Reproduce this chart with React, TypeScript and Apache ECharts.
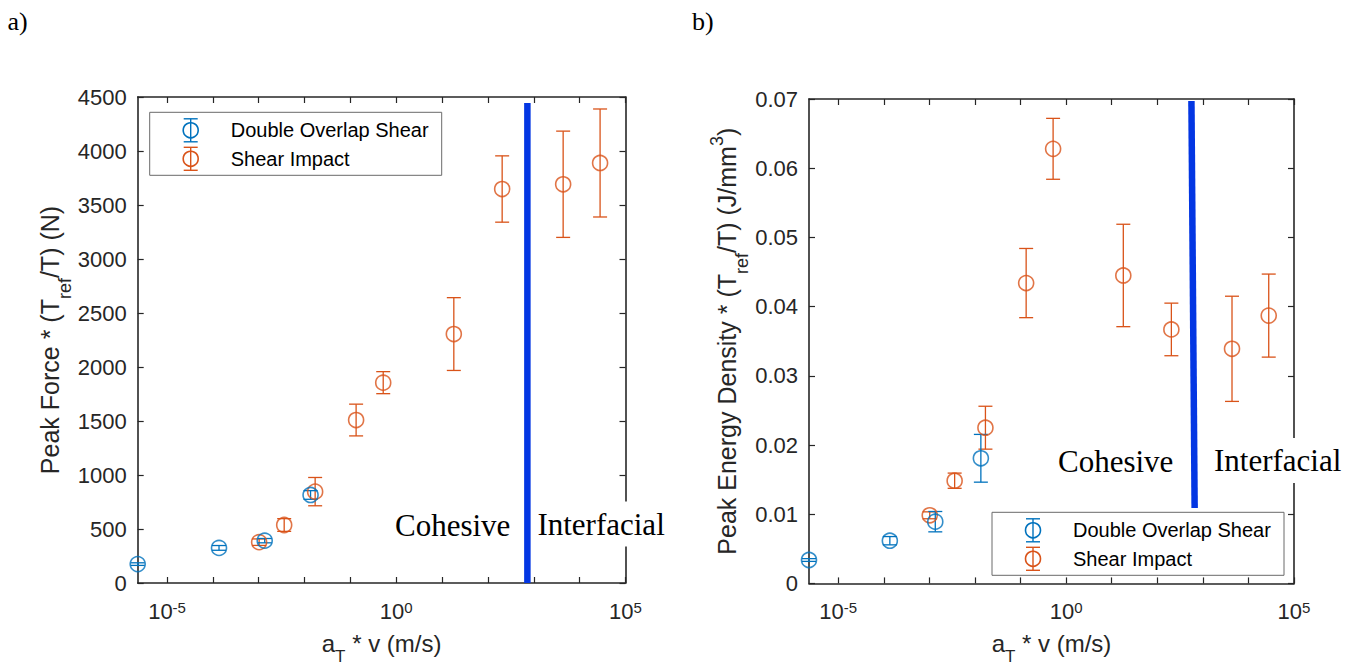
import React, { useEffect, useRef } from 'react';
import * as echarts from 'echarts';

// ---------- data ----------
const dosVelocity = [2.29e-6, 1.36e-4, 1.35e-3, 1.35e-2];
const impactVelocity = [1.02e-3, 3.59e-3, 1.7e-2, 0.133, 0.519, 18.0, 204, 4365, 27900];

const dosForce = [175, 325, 392, 815];
const dosForceErr = [12, 22, 20, 40];
const impactForce = [378, 537, 846, 1509, 1855, 2305, 3648, 3692, 3889];
const impactForceErr = [30, 59, 131, 147, 102, 337, 307, 492, 500];

const dosEnergy = [0.00338, 0.00617, 0.00892, 0.01808];
const dosEnergyErr = [0.0002, 0.0006, 0.00147, 0.00345];
const impactEnergy = [0.00984, 0.01484, 0.0225, 0.0434, 0.0628, 0.0445, 0.0367, 0.0339, 0.0387];
const impactEnergyErr = [0.0005, 0.0011, 0.0031, 0.005, 0.0044, 0.0074, 0.0038, 0.0076, 0.006];

const forceTransition = [[724, 0], [724, 4444]];
const energyTransition = [[562, 0.0697], [661, 0.0109]];

const xMin = 2.29e-6;
const xMax = 1e5;
const tickExponents = [-5, -4, -3, -2, -1, 0, 1, 2, 3, 4, 5];
const labeledExponents = [-5, 0, 5];
const forceTicks = { min: 0, max: 4500, interval: 500 };
const energyTicks = { min: 0, max: 0.07, interval: 0.01 };
const seriesNames = ['Double Overlap Shear', 'Shear Impact'];

// ---------- style ----------
const BLUE = '#0072BD';
const ORANGE = '#D95319';
const LINE_BLUE = '#0336e3';
const AX = '#262626';
const SANS = '"Liberation Sans", Arial, Helvetica, sans-serif';
const SERIF = '"Liberation Serif", "Times New Roman", serif';

// x values are plotted on a base-10 logarithmic scale (exponent space)
const lg = (v: number) => Math.log10(v);
const zip2 = (xs: number[], ys: number[]) => xs.map((x, i) => [lg(x), ys[i]]);
const zip3 = (xs: number[], ys: number[], es: number[]) => xs.map((x, i) => [lg(x), ys[i], es[i]]);
const logPts = (pts: number[][]) => pts.map((p) => [lg(p[0]), p[1]]);

const errRender = (color: string) => (params: any, api: any) => {
  const x = api.value(0);
  const y = api.value(1);
  const e = api.value(2);
  const top = api.coord([x, y + e]);
  const bot = api.coord([x, y - e]);
  const hw = 7;
  const st = { stroke: color, lineWidth: 1.3, fill: 'none' };
  return {
    type: 'group',
    children: [
      { type: 'line', shape: { x1: top[0], y1: top[1], x2: bot[0], y2: bot[1] }, style: st },
      { type: 'line', shape: { x1: top[0] - hw, y1: top[1], x2: top[0] + hw, y2: top[1] }, style: st },
      { type: 'line', shape: { x1: bot[0] - hw, y1: bot[1], x2: bot[0] + hw, y2: bot[1] }, style: st },
    ],
  };
};

const logLabelFormatter = (v: number) => {
  const r = Math.round(v);
  if (Math.abs(v - r) < 1e-6 && labeledExponents.includes(r)) return `{b|10}{s|${r}}`;
  return '';
};

const xAxisFor = (gridIndex: number, position: string, withLabels: boolean) => ({
  type: 'value',
  gridIndex,
  position,
  min: lg(xMin),
  max: lg(xMax),
  splitNumber: 10,
  axisLine: { show: true, onZero: false, lineStyle: { color: AX, width: 1.6 } },
  axisTick: { show: true, inside: true, length: 6, customValues: tickExponents, lineStyle: { color: AX, width: 1.2 } },
  minorTick: { show: false },
  splitLine: { show: false },
  axisLabel: withLabels
    ? {
        show: true,
        margin: 17,
        customValues: labeledExponents,
        showMinLabel: true,
        showMaxLabel: true,
        formatter: logLabelFormatter,
        rich: {
          b: { fontSize: 22, lineHeight: 22, verticalAlign: 'bottom', fontFamily: SANS, color: AX },
          s: { fontSize: 15, lineHeight: 15, verticalAlign: 'top', padding: [0, 0, 11, 0], fontFamily: SANS, color: AX },
        },
      }
    : { show: false },
  name: withLabels ? '{b|a}{sub|T}{b|\u00a0* v (m/s)}' : '',
  nameLocation: 'middle',
  nameGap: 48,
  nameTextStyle: {
    fontFamily: SANS,
    fontSize: 24,
    color: AX,
    rich: {
      b: { fontSize: 24, lineHeight: 26, verticalAlign: 'top', fontFamily: SANS, color: AX },
      sub: { fontSize: 17, lineHeight: 18, verticalAlign: 'top', padding: [17, 0, 0, 0], fontFamily: SANS, color: AX },
    },
  },
});

const yAxisFor = (gridIndex: number, position: string, ticks: any, withLabels: boolean, name: string, nameGap: number, rich: any, fmt: (v: number) => string) => ({
  type: 'value',
  gridIndex,
  position,
  min: ticks.min,
  max: ticks.max,
  interval: ticks.interval,
  axisLine: { show: true, onZero: false, lineStyle: { color: AX, width: 1.6 } },
  axisTick: { show: true, inside: true, length: 6, lineStyle: { color: AX, width: 1.2 } },
  splitLine: { show: false },
  axisLabel: withLabels
    ? { show: true, margin: 11, fontSize: 22, fontFamily: SANS, color: AX, formatter: fmt }
    : { show: false },
  name: withLabels ? name : '',
  nameLocation: 'middle',
  nameGap,
  nameTextStyle: { fontFamily: SANS, fontSize: 25, color: AX, rich },
});

const legendGroup = (x0: number, y0: number) => {
  const w = 292;
  const h = 63;
  const colors = [BLUE, ORANGE];
  const children: any[] = [
    { type: 'rect', shape: { x: 0, y: 0, width: w, height: h }, style: { fill: '#fff', stroke: '#6a6a6a', lineWidth: 1 } },
  ];
  seriesNames.forEach((name, i) => {
    const cy = 18 + i * 28.5;
    const cx = 41;
    const st = { stroke: colors[i], lineWidth: 1.4, fill: 'none' };
    children.push({ type: 'line', shape: { x1: cx, y1: cy - 11.5, x2: cx, y2: cy + 11.5 }, style: st });
    children.push({ type: 'line', shape: { x1: cx - 7, y1: cy - 11.5, x2: cx + 7, y2: cy - 11.5 }, style: st });
    children.push({ type: 'line', shape: { x1: cx - 7, y1: cy + 11.5, x2: cx + 7, y2: cy + 11.5 }, style: st });
    children.push({ type: 'circle', shape: { cx, cy, r: 7.5 }, style: { fill: 'none', stroke: colors[i], lineWidth: 1.6 } });
    children.push({
      type: 'text',
      x: 81,
      y: cy,
      style: { text: name, fontFamily: SANS, fontSize: 20, fill: '#000', verticalAlign: 'middle', textVerticalAlign: 'middle', align: 'left', textAlign: 'left' },
    });
  });
  return { type: 'group', x: x0, y: y0, z: 50, children };
};

const annot = (text: string, x: number, y: number, bg: boolean) => ({
  type: 'text',
  x,
  y,
  z: 60,
  style: {
    text,
    fontFamily: SERIF,
    fontSize: 31,
    fill: '#000',
    verticalAlign: 'middle',
    textVerticalAlign: 'middle',
    align: 'left',
    textAlign: 'left',
    backgroundColor: bg ? '#fff' : undefined,
    padding: bg ? [7, 2, 7, 2] : 0,
  },
});

const scatterS = (xi: number, yi: number, data: number[][], color: string, name: string) => ({
  type: 'scatter',
  name,
  xAxisIndex: xi,
  yAxisIndex: yi,
  data,
  symbol: 'circle',
  symbolSize: 15,
  clip: false,
  silent: true,
  z: 3,
  itemStyle: { color: 'rgba(0,0,0,0)', borderColor: color, borderWidth: 1.6 },
});

const errS = (xi: number, yi: number, data: number[][], color: string) => ({
  type: 'custom',
  xAxisIndex: xi,
  yAxisIndex: yi,
  data,
  encode: { x: 0, y: 1 },
  clip: false,
  silent: true,
  z: 2,
  renderItem: errRender(color),
});

const lineS = (xi: number, yi: number, data: number[][]) => ({
  type: 'line',
  xAxisIndex: xi,
  yAxisIndex: yi,
  data,
  symbol: 'none',
  silent: true,
  z: 4,
  lineStyle: { color: LINE_BLUE, width: 6.5 },
});

export default function App() {
  const ref = useRef<HTMLDivElement>(null);
  useEffect(() => {
    if (!ref.current) return;
    const chart = echarts.init(ref.current, undefined, { renderer: 'svg' });

    const leftRich = {
      b: { fontSize: 25, lineHeight: 26, verticalAlign: 'top', fontFamily: SANS, color: AX },
      sub: { fontSize: 18, lineHeight: 18, verticalAlign: 'top', padding: [18.5, 0, 0, 0], fontFamily: SANS, color: AX },
    };
    const rightRich = {
      b: { fontSize: 25, lineHeight: 26, verticalAlign: 'top', padding: [6.5, 0, 0, 0], fontFamily: SANS, color: AX },
      sub: { fontSize: 18, lineHeight: 18, verticalAlign: 'top', padding: [25, 0, 0, 0], fontFamily: SANS, color: AX },
      sup: { fontSize: 18, lineHeight: 18, verticalAlign: 'top', fontFamily: SANS, color: AX },
    };

    const option: any = {
      animation: false,
      backgroundColor: '#fff',
      textStyle: { fontFamily: SANS },
      grid: [
        { left: 137.7, top: 97, width: 487.8, height: 486, outerBoundsMode: 'none', containLabel: false },
        { left: 809, top: 99, width: 485, height: 484.4, outerBoundsMode: 'none', containLabel: false },
      ],
      xAxis: [
        xAxisFor(0, 'bottom', true),
        xAxisFor(0, 'top', false),
        xAxisFor(1, 'bottom', true),
        xAxisFor(1, 'top', false),
      ],
      yAxis: [
        yAxisFor(0, 'left', forceTicks, true, '{b|Peak Force * (T}{sub|ref}{b|/T) (N)}', 68, leftRich, (v) => String(v)),
        yAxisFor(0, 'right', forceTicks, false, '', 0, leftRich, (v) => String(v)),
        yAxisFor(1, 'left', energyTicks, true, '{b|Peak Energy Density * (T}{sub|ref}{b|/T) (J/mm}{sup|3}{b|)}', 61, rightRich, (v) => (Math.abs(v) < 1e-9 ? '0' : v.toFixed(2))),
        yAxisFor(1, 'right', energyTicks, false, '', 0, rightRich, (v) => String(v)),
      ],
      series: [
        errS(0, 0, zip3(impactVelocity, impactForce, impactForceErr), ORANGE),
        errS(0, 0, zip3(dosVelocity, dosForce, dosForceErr), BLUE),
        scatterS(0, 0, zip2(impactVelocity, impactForce), ORANGE, seriesNames[1]),
        scatterS(0, 0, zip2(dosVelocity, dosForce), BLUE, seriesNames[0]),
        lineS(0, 0, logPts(forceTransition)),
        errS(2, 2, zip3(impactVelocity, impactEnergy, impactEnergyErr), ORANGE),
        errS(2, 2, zip3(dosVelocity, dosEnergy, dosEnergyErr), BLUE),
        scatterS(2, 2, zip2(impactVelocity, impactEnergy), ORANGE, seriesNames[1]),
        scatterS(2, 2, zip2(dosVelocity, dosEnergy), BLUE, seriesNames[0]),
        lineS(2, 2, logPts(energyTransition)),
      ],
      graphic: [
        { type: 'text', x: 7.5, y: 21, z: 60, style: { text: 'a)', fontFamily: SERIF, fontSize: 26, fill: '#000', verticalAlign: 'middle', textVerticalAlign: 'middle' } },
        { type: 'text', x: 692, y: 21, z: 60, style: { text: 'b)', fontFamily: SERIF, fontSize: 26, fill: '#000', verticalAlign: 'middle', textVerticalAlign: 'middle' } },
        legendGroup(149.7, 112.3),
        legendGroup(992, 512.3),
        annot('Cohesive', 395, 525.5, false),
        annot('Interfacial', 535.4, 524, true),
        annot('Cohesive', 1058, 461, false),
        annot('Interfacial', 1212, 460.4, true),
      ],
    };
    chart.setOption(option);
    return () => chart.dispose();
  }, []);
  return <div ref={ref} style={{ position: 'fixed', left: 0, top: 0, width: 1359, height: 669 }} />;
}
